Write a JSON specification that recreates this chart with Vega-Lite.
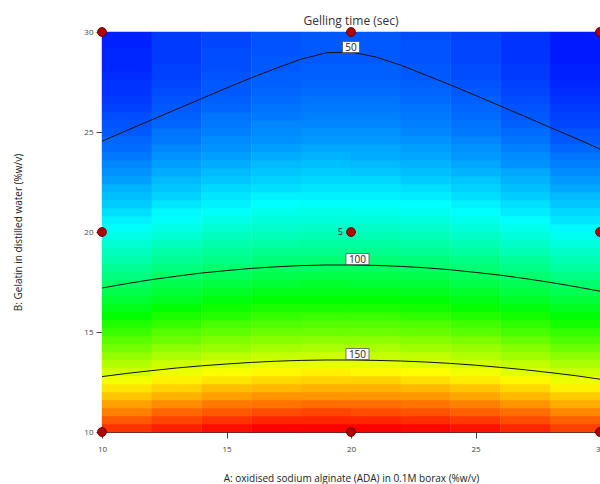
{
"$schema": "https://vega.github.io/schema/vega-lite/v6.json",
"autosize": {"type": "none"},
"width": 498, "height": 400,
"padding": {"left": 102, "top": 32, "right": 0, "bottom": 52},
"config": {"font": "Open Sans", "view": {"stroke": "#333", "strokeWidth": 1}},
"title": {"text": "Gelling time (sec)", "fontSize": 12, "fontWeight": "normal", "color": "#333", "offset": -2},
"datasets": {
"grid": [
{"A":11,"B":10.2,"T":188},{"A":13,"B":10.2,"T":191},{"A":15,"B":10.2,"T":194},{"A":17,"B":10.2,"T":196},{"A":19,"B":10.2,"T":196},{"A":21,"B":10.2,"T":196},{"A":23,"B":10.2,"T":195},{"A":25,"B":10.2,"T":193},{"A":27,"B":10.2,"T":190},{"A":29,"B":10.2,"T":186},
{"A":11,"B":10.6,"T":182},{"A":13,"B":10.6,"T":185},{"A":15,"B":10.6,"T":188},{"A":17,"B":10.6,"T":190},{"A":19,"B":10.6,"T":190},{"A":21,"B":10.6,"T":190},{"A":23,"B":10.6,"T":189},{"A":25,"B":10.6,"T":187},{"A":27,"B":10.6,"T":184},{"A":29,"B":10.6,"T":181},
{"A":11,"B":11.0,"T":176},{"A":13,"B":11.0,"T":180},{"A":15,"B":11.0,"T":182},{"A":17,"B":11.0,"T":184},{"A":19,"B":11.0,"T":185},{"A":21,"B":11.0,"T":184},{"A":23,"B":11.0,"T":183},{"A":25,"B":11.0,"T":181},{"A":27,"B":11.0,"T":179},{"A":29,"B":11.0,"T":175},
{"A":11,"B":11.4,"T":171},{"A":13,"B":11.4,"T":174},{"A":15,"B":11.4,"T":177},{"A":17,"B":11.4,"T":178},{"A":19,"B":11.4,"T":179},{"A":21,"B":11.4,"T":179},{"A":23,"B":11.4,"T":178},{"A":25,"B":11.4,"T":176},{"A":27,"B":11.4,"T":173},{"A":29,"B":11.4,"T":169},
{"A":11,"B":11.8,"T":165},{"A":13,"B":11.8,"T":168},{"A":15,"B":11.8,"T":171},{"A":17,"B":11.8,"T":173},{"A":19,"B":11.8,"T":173},{"A":21,"B":11.8,"T":173},{"A":23,"B":11.8,"T":172},{"A":25,"B":11.8,"T":170},{"A":27,"B":11.8,"T":167},{"A":29,"B":11.8,"T":164},
{"A":11,"B":12.2,"T":160},{"A":13,"B":12.2,"T":163},{"A":15,"B":12.2,"T":166},{"A":17,"B":12.2,"T":167},{"A":19,"B":12.2,"T":168},{"A":21,"B":12.2,"T":168},{"A":23,"B":12.2,"T":167},{"A":25,"B":12.2,"T":165},{"A":27,"B":12.2,"T":162},{"A":29,"B":12.2,"T":158},
{"A":11,"B":12.6,"T":154},{"A":13,"B":12.6,"T":158},{"A":15,"B":12.6,"T":160},{"A":17,"B":12.6,"T":162},{"A":19,"B":12.6,"T":163},{"A":21,"B":12.6,"T":163},{"A":23,"B":12.6,"T":161},{"A":25,"B":12.6,"T":159},{"A":27,"B":12.6,"T":157},{"A":29,"B":12.6,"T":153},
{"A":11,"B":13.0,"T":149},{"A":13,"B":13.0,"T":153},{"A":15,"B":13.0,"T":155},{"A":17,"B":13.0,"T":157},{"A":19,"B":13.0,"T":158},{"A":21,"B":13.0,"T":157},{"A":23,"B":13.0,"T":156},{"A":25,"B":13.0,"T":154},{"A":27,"B":13.0,"T":151},{"A":29,"B":13.0,"T":148},
{"A":11,"B":13.4,"T":144},{"A":13,"B":13.4,"T":148},{"A":15,"B":13.4,"T":150},{"A":17,"B":13.4,"T":152},{"A":19,"B":13.4,"T":152},{"A":21,"B":13.4,"T":152},{"A":23,"B":13.4,"T":151},{"A":25,"B":13.4,"T":149},{"A":27,"B":13.4,"T":146},{"A":29,"B":13.4,"T":143},
{"A":11,"B":13.8,"T":139},{"A":13,"B":13.8,"T":143},{"A":15,"B":13.8,"T":145},{"A":17,"B":13.8,"T":147},{"A":19,"B":13.8,"T":148},{"A":21,"B":13.8,"T":147},{"A":23,"B":13.8,"T":146},{"A":25,"B":13.8,"T":144},{"A":27,"B":13.8,"T":141},{"A":29,"B":13.8,"T":138},
{"A":11,"B":14.2,"T":134},{"A":13,"B":14.2,"T":138},{"A":15,"B":14.2,"T":140},{"A":17,"B":14.2,"T":142},{"A":19,"B":14.2,"T":143},{"A":21,"B":14.2,"T":143},{"A":23,"B":14.2,"T":141},{"A":25,"B":14.2,"T":140},{"A":27,"B":14.2,"T":137},{"A":29,"B":14.2,"T":133},
{"A":11,"B":14.6,"T":130},{"A":13,"B":14.6,"T":133},{"A":15,"B":14.6,"T":136},{"A":17,"B":14.6,"T":137},{"A":19,"B":14.6,"T":138},{"A":21,"B":14.6,"T":138},{"A":23,"B":14.6,"T":137},{"A":25,"B":14.6,"T":135},{"A":27,"B":14.6,"T":132},{"A":29,"B":14.6,"T":128},
{"A":11,"B":15.0,"T":125},{"A":13,"B":15.0,"T":129},{"A":15,"B":15.0,"T":131},{"A":17,"B":15.0,"T":133},{"A":19,"B":15.0,"T":133},{"A":21,"B":15.0,"T":133},{"A":23,"B":15.0,"T":132},{"A":25,"B":15.0,"T":130},{"A":27,"B":15.0,"T":127},{"A":29,"B":15.0,"T":124},
{"A":11,"B":15.4,"T":121},{"A":13,"B":15.4,"T":124},{"A":15,"B":15.4,"T":127},{"A":17,"B":15.4,"T":128},{"A":19,"B":15.4,"T":129},{"A":21,"B":15.4,"T":129},{"A":23,"B":15.4,"T":128},{"A":25,"B":15.4,"T":126},{"A":27,"B":15.4,"T":123},{"A":29,"B":15.4,"T":119},
{"A":11,"B":15.8,"T":116},{"A":13,"B":15.8,"T":120},{"A":15,"B":15.8,"T":122},{"A":17,"B":15.8,"T":124},{"A":19,"B":15.8,"T":125},{"A":21,"B":15.8,"T":125},{"A":23,"B":15.8,"T":123},{"A":25,"B":15.8,"T":121},{"A":27,"B":15.8,"T":119},{"A":29,"B":15.8,"T":115},
{"A":11,"B":16.2,"T":112},{"A":13,"B":16.2,"T":116},{"A":15,"B":16.2,"T":118},{"A":17,"B":16.2,"T":120},{"A":19,"B":16.2,"T":120},{"A":21,"B":16.2,"T":120},{"A":23,"B":16.2,"T":119},{"A":25,"B":16.2,"T":117},{"A":27,"B":16.2,"T":114},{"A":29,"B":16.2,"T":111},
{"A":11,"B":16.6,"T":108},{"A":13,"B":16.6,"T":111},{"A":15,"B":16.6,"T":114},{"A":17,"B":16.6,"T":116},{"A":19,"B":16.6,"T":116},{"A":21,"B":16.6,"T":116},{"A":23,"B":16.6,"T":115},{"A":25,"B":16.6,"T":113},{"A":27,"B":16.6,"T":110},{"A":29,"B":16.6,"T":107},
{"A":11,"B":17.0,"T":104},{"A":13,"B":17.0,"T":107},{"A":15,"B":17.0,"T":110},{"A":17,"B":17.0,"T":112},{"A":19,"B":17.0,"T":112},{"A":21,"B":17.0,"T":112},{"A":23,"B":17.0,"T":111},{"A":25,"B":17.0,"T":109},{"A":27,"B":17.0,"T":106},{"A":29,"B":17.0,"T":103},
{"A":11,"B":17.4,"T":100},{"A":13,"B":17.4,"T":104},{"A":15,"B":17.4,"T":106},{"A":17,"B":17.4,"T":108},{"A":19,"B":17.4,"T":109},{"A":21,"B":17.4,"T":108},{"A":23,"B":17.4,"T":107},{"A":25,"B":17.4,"T":105},{"A":27,"B":17.4,"T":103},{"A":29,"B":17.4,"T":99},
{"A":11,"B":17.8,"T":96},{"A":13,"B":17.8,"T":100},{"A":15,"B":17.8,"T":102},{"A":17,"B":17.8,"T":104},{"A":19,"B":17.8,"T":105},{"A":21,"B":17.8,"T":105},{"A":23,"B":17.8,"T":104},{"A":25,"B":17.8,"T":102},{"A":27,"B":17.8,"T":99},{"A":29,"B":17.8,"T":95},
{"A":11,"B":18.2,"T":93},{"A":13,"B":18.2,"T":96},{"A":15,"B":18.2,"T":99},{"A":17,"B":18.2,"T":101},{"A":19,"B":18.2,"T":101},{"A":21,"B":18.2,"T":101},{"A":23,"B":18.2,"T":100},{"A":25,"B":18.2,"T":98},{"A":27,"B":18.2,"T":95},{"A":29,"B":18.2,"T":91},
{"A":11,"B":18.6,"T":89},{"A":13,"B":18.6,"T":93},{"A":15,"B":18.6,"T":95},{"A":17,"B":18.6,"T":97},{"A":19,"B":18.6,"T":98},{"A":21,"B":18.6,"T":98},{"A":23,"B":18.6,"T":97},{"A":25,"B":18.6,"T":95},{"A":27,"B":18.6,"T":92},{"A":29,"B":18.6,"T":88},
{"A":11,"B":19.0,"T":86},{"A":13,"B":19.0,"T":90},{"A":15,"B":19.0,"T":92},{"A":17,"B":19.0,"T":94},{"A":19,"B":19.0,"T":94},{"A":21,"B":19.0,"T":94},{"A":23,"B":19.0,"T":93},{"A":25,"B":19.0,"T":91},{"A":27,"B":19.0,"T":88},{"A":29,"B":19.0,"T":85},
{"A":11,"B":19.4,"T":83},{"A":13,"B":19.4,"T":86},{"A":15,"B":19.4,"T":89},{"A":17,"B":19.4,"T":90},{"A":19,"B":19.4,"T":91},{"A":21,"B":19.4,"T":91},{"A":23,"B":19.4,"T":90},{"A":25,"B":19.4,"T":88},{"A":27,"B":19.4,"T":85},{"A":29,"B":19.4,"T":81},
{"A":11,"B":19.8,"T":80},{"A":13,"B":19.8,"T":83},{"A":15,"B":19.8,"T":86},{"A":17,"B":19.8,"T":87},{"A":19,"B":19.8,"T":88},{"A":21,"B":19.8,"T":88},{"A":23,"B":19.8,"T":87},{"A":25,"B":19.8,"T":85},{"A":27,"B":19.8,"T":82},{"A":29,"B":19.8,"T":78},
{"A":11,"B":20.2,"T":77},{"A":13,"B":20.2,"T":80},{"A":15,"B":20.2,"T":83},{"A":17,"B":20.2,"T":84},{"A":19,"B":20.2,"T":85},{"A":21,"B":20.2,"T":85},{"A":23,"B":20.2,"T":84},{"A":25,"B":20.2,"T":82},{"A":27,"B":20.2,"T":79},{"A":29,"B":20.2,"T":75},
{"A":11,"B":20.6,"T":74},{"A":13,"B":20.6,"T":77},{"A":15,"B":20.6,"T":80},{"A":17,"B":20.6,"T":82},{"A":19,"B":20.6,"T":82},{"A":21,"B":20.6,"T":82},{"A":23,"B":20.6,"T":81},{"A":25,"B":20.6,"T":79},{"A":27,"B":20.6,"T":76},{"A":29,"B":20.6,"T":72},
{"A":11,"B":21.0,"T":71},{"A":13,"B":21.0,"T":75},{"A":15,"B":21.0,"T":77},{"A":17,"B":21.0,"T":79},{"A":19,"B":21.0,"T":80},{"A":21,"B":21.0,"T":79},{"A":23,"B":21.0,"T":78},{"A":25,"B":21.0,"T":76},{"A":27,"B":21.0,"T":73},{"A":29,"B":21.0,"T":70},
{"A":11,"B":21.4,"T":68},{"A":13,"B":21.4,"T":72},{"A":15,"B":21.4,"T":74},{"A":17,"B":21.4,"T":76},{"A":19,"B":21.4,"T":77},{"A":21,"B":21.4,"T":77},{"A":23,"B":21.4,"T":76},{"A":25,"B":21.4,"T":74},{"A":27,"B":21.4,"T":71},{"A":29,"B":21.4,"T":67},
{"A":11,"B":21.8,"T":66},{"A":13,"B":21.8,"T":69},{"A":15,"B":21.8,"T":72},{"A":17,"B":21.8,"T":74},{"A":19,"B":21.8,"T":74},{"A":21,"B":21.8,"T":74},{"A":23,"B":21.8,"T":73},{"A":25,"B":21.8,"T":71},{"A":27,"B":21.8,"T":68},{"A":29,"B":21.8,"T":65},
{"A":11,"B":22.2,"T":64},{"A":13,"B":22.2,"T":67},{"A":15,"B":22.2,"T":70},{"A":17,"B":22.2,"T":71},{"A":19,"B":22.2,"T":72},{"A":21,"B":22.2,"T":72},{"A":23,"B":22.2,"T":71},{"A":25,"B":22.2,"T":69},{"A":27,"B":22.2,"T":66},{"A":29,"B":22.2,"T":62},
{"A":11,"B":22.6,"T":61},{"A":13,"B":22.6,"T":65},{"A":15,"B":22.6,"T":67},{"A":17,"B":22.6,"T":69},{"A":19,"B":22.6,"T":70},{"A":21,"B":22.6,"T":70},{"A":23,"B":22.6,"T":68},{"A":25,"B":22.6,"T":67},{"A":27,"B":22.6,"T":64},{"A":29,"B":22.6,"T":60},
{"A":11,"B":23.0,"T":59},{"A":13,"B":23.0,"T":63},{"A":15,"B":23.0,"T":65},{"A":17,"B":23.0,"T":67},{"A":19,"B":23.0,"T":68},{"A":21,"B":23.0,"T":67},{"A":23,"B":23.0,"T":66},{"A":25,"B":23.0,"T":64},{"A":27,"B":23.0,"T":62},{"A":29,"B":23.0,"T":58},
{"A":11,"B":23.4,"T":57},{"A":13,"B":23.4,"T":61},{"A":15,"B":23.4,"T":63},{"A":17,"B":23.4,"T":65},{"A":19,"B":23.4,"T":66},{"A":21,"B":23.4,"T":65},{"A":23,"B":23.4,"T":64},{"A":25,"B":23.4,"T":62},{"A":27,"B":23.4,"T":59},{"A":29,"B":23.4,"T":56},
{"A":11,"B":23.8,"T":55},{"A":13,"B":23.8,"T":59},{"A":15,"B":23.8,"T":61},{"A":17,"B":23.8,"T":63},{"A":19,"B":23.8,"T":64},{"A":21,"B":23.8,"T":63},{"A":23,"B":23.8,"T":62},{"A":25,"B":23.8,"T":60},{"A":27,"B":23.8,"T":58},{"A":29,"B":23.8,"T":54},
{"A":11,"B":24.2,"T":53},{"A":13,"B":24.2,"T":57},{"A":15,"B":24.2,"T":59},{"A":17,"B":24.2,"T":61},{"A":19,"B":24.2,"T":62},{"A":21,"B":24.2,"T":62},{"A":23,"B":24.2,"T":61},{"A":25,"B":24.2,"T":59},{"A":27,"B":24.2,"T":56},{"A":29,"B":24.2,"T":52},
{"A":11,"B":24.6,"T":52},{"A":13,"B":24.6,"T":55},{"A":15,"B":24.6,"T":58},{"A":17,"B":24.6,"T":59},{"A":19,"B":24.6,"T":60},{"A":21,"B":24.6,"T":60},{"A":23,"B":24.6,"T":59},{"A":25,"B":24.6,"T":57},{"A":27,"B":24.6,"T":54},{"A":29,"B":24.6,"T":50},
{"A":11,"B":25.0,"T":50},{"A":13,"B":25.0,"T":54},{"A":15,"B":25.0,"T":56},{"A":17,"B":25.0,"T":58},{"A":19,"B":25.0,"T":59},{"A":21,"B":25.0,"T":59},{"A":23,"B":25.0,"T":57},{"A":25,"B":25.0,"T":55},{"A":27,"B":25.0,"T":53},{"A":29,"B":25.0,"T":49},
{"A":11,"B":25.4,"T":49},{"A":13,"B":25.4,"T":52},{"A":15,"B":25.4,"T":55},{"A":17,"B":25.4,"T":57},{"A":19,"B":25.4,"T":57},{"A":21,"B":25.4,"T":57},{"A":23,"B":25.4,"T":56},{"A":25,"B":25.4,"T":54},{"A":27,"B":25.4,"T":51},{"A":29,"B":25.4,"T":47},
{"A":11,"B":25.8,"T":48},{"A":13,"B":25.8,"T":51},{"A":15,"B":25.8,"T":54},{"A":17,"B":25.8,"T":55},{"A":19,"B":25.8,"T":56},{"A":21,"B":25.8,"T":56},{"A":23,"B":25.8,"T":55},{"A":25,"B":25.8,"T":53},{"A":27,"B":25.8,"T":50},{"A":29,"B":25.8,"T":46},
{"A":11,"B":26.2,"T":46},{"A":13,"B":26.2,"T":50},{"A":15,"B":26.2,"T":52},{"A":17,"B":26.2,"T":54},{"A":19,"B":26.2,"T":55},{"A":21,"B":26.2,"T":55},{"A":23,"B":26.2,"T":54},{"A":25,"B":26.2,"T":52},{"A":27,"B":26.2,"T":49},{"A":29,"B":26.2,"T":45},
{"A":11,"B":26.6,"T":45},{"A":13,"B":26.6,"T":49},{"A":15,"B":26.6,"T":51},{"A":17,"B":26.6,"T":53},{"A":19,"B":26.6,"T":54},{"A":21,"B":26.6,"T":54},{"A":23,"B":26.6,"T":53},{"A":25,"B":26.6,"T":51},{"A":27,"B":26.6,"T":48},{"A":29,"B":26.6,"T":44},
{"A":11,"B":27.0,"T":44},{"A":13,"B":27.0,"T":48},{"A":15,"B":27.0,"T":50},{"A":17,"B":27.0,"T":52},{"A":19,"B":27.0,"T":53},{"A":21,"B":27.0,"T":53},{"A":23,"B":27.0,"T":52},{"A":25,"B":27.0,"T":50},{"A":27,"B":27.0,"T":47},{"A":29,"B":27.0,"T":43},
{"A":11,"B":27.4,"T":44},{"A":13,"B":27.4,"T":47},{"A":15,"B":27.4,"T":50},{"A":17,"B":27.4,"T":51},{"A":19,"B":27.4,"T":52},{"A":21,"B":27.4,"T":52},{"A":23,"B":27.4,"T":51},{"A":25,"B":27.4,"T":49},{"A":27,"B":27.4,"T":46},{"A":29,"B":27.4,"T":42},
{"A":11,"B":27.8,"T":43},{"A":13,"B":27.8,"T":46},{"A":15,"B":27.8,"T":49},{"A":17,"B":27.8,"T":51},{"A":19,"B":27.8,"T":51},{"A":21,"B":27.8,"T":51},{"A":23,"B":27.8,"T":50},{"A":25,"B":27.8,"T":48},{"A":27,"B":27.8,"T":45},{"A":29,"B":27.8,"T":41},
{"A":11,"B":28.2,"T":42},{"A":13,"B":28.2,"T":46},{"A":15,"B":28.2,"T":48},{"A":17,"B":28.2,"T":50},{"A":19,"B":28.2,"T":51},{"A":21,"B":28.2,"T":51},{"A":23,"B":28.2,"T":50},{"A":25,"B":28.2,"T":48},{"A":27,"B":28.2,"T":45},{"A":29,"B":28.2,"T":41},
{"A":11,"B":28.6,"T":42},{"A":13,"B":28.6,"T":45},{"A":15,"B":28.6,"T":48},{"A":17,"B":28.6,"T":50},{"A":19,"B":28.6,"T":50},{"A":21,"B":28.6,"T":50},{"A":23,"B":28.6,"T":49},{"A":25,"B":28.6,"T":47},{"A":27,"B":28.6,"T":44},{"A":29,"B":28.6,"T":40},
{"A":11,"B":29.0,"T":42},{"A":13,"B":29.0,"T":45},{"A":15,"B":29.0,"T":48},{"A":17,"B":29.0,"T":49},{"A":19,"B":29.0,"T":50},{"A":21,"B":29.0,"T":50},{"A":23,"B":29.0,"T":49},{"A":25,"B":29.0,"T":47},{"A":27,"B":29.0,"T":44},{"A":29,"B":29.0,"T":40},
{"A":11,"B":29.4,"T":41},{"A":13,"B":29.4,"T":45},{"A":15,"B":29.4,"T":47},{"A":17,"B":29.4,"T":49},{"A":19,"B":29.4,"T":50},{"A":21,"B":29.4,"T":50},{"A":23,"B":29.4,"T":49},{"A":25,"B":29.4,"T":47},{"A":27,"B":29.4,"T":44},{"A":29,"B":29.4,"T":40},
{"A":11,"B":29.8,"T":41},{"A":13,"B":29.8,"T":45},{"A":15,"B":29.8,"T":47},{"A":17,"B":29.8,"T":49},{"A":19,"B":29.8,"T":50},{"A":21,"B":29.8,"T":50},{"A":23,"B":29.8,"T":48},{"A":25,"B":29.8,"T":46},{"A":27,"B":29.8,"T":44},{"A":29,"B":29.8,"T":40}
],
"contours": [
{"L":50,"A":10,"B":24.54},{"L":50,"A":11,"B":25.08},{"L":50,"A":12,"B":25.61},{"L":50,"A":13,"B":26.14},{"L":50,"A":14,"B":26.67},{"L":50,"A":15,"B":27.2},{"L":50,"A":16,"B":27.71},{"L":50,"A":17,"B":28.19},{"L":50,"A":18,"B":28.64},{"L":50,"A":19,"B":28.96},{"L":50,"A":20,"B":29.0},{"L":50,"A":21,"B":28.75},{"L":50,"A":22,"B":28.34},{"L":50,"A":23,"B":27.85},{"L":50,"A":24,"B":27.35},{"L":50,"A":25,"B":26.83},{"L":50,"A":26,"B":26.3},{"L":50,"A":27,"B":25.77},{"L":50,"A":28,"B":25.23},{"L":50,"A":29,"B":24.7},{"L":50,"A":30,"B":24.15},
{"L":100,"A":10,"B":17.2},{"L":100,"A":11,"B":17.42},{"L":100,"A":12,"B":17.62},{"L":100,"A":13,"B":17.79},{"L":100,"A":14,"B":17.95},{"L":100,"A":15,"B":18.07},{"L":100,"A":16,"B":18.18},{"L":100,"A":17,"B":18.26},{"L":100,"A":18,"B":18.32},{"L":100,"A":19,"B":18.35},{"L":100,"A":20,"B":18.35},{"L":100,"A":21,"B":18.33},{"L":100,"A":22,"B":18.28},{"L":100,"A":23,"B":18.21},{"L":100,"A":24,"B":18.11},{"L":100,"A":25,"B":17.98},{"L":100,"A":26,"B":17.84},{"L":100,"A":27,"B":17.67},{"L":100,"A":28,"B":17.48},{"L":100,"A":29,"B":17.27},{"L":100,"A":30,"B":17.04},
{"L":150,"A":10,"B":12.77},{"L":150,"A":11,"B":12.93},{"L":150,"A":12,"B":13.07},{"L":150,"A":13,"B":13.2},{"L":150,"A":14,"B":13.31},{"L":150,"A":15,"B":13.4},{"L":150,"A":16,"B":13.48},{"L":150,"A":17,"B":13.54},{"L":150,"A":18,"B":13.58},{"L":150,"A":19,"B":13.6},{"L":150,"A":20,"B":13.6},{"L":150,"A":21,"B":13.58},{"L":150,"A":22,"B":13.55},{"L":150,"A":23,"B":13.5},{"L":150,"A":24,"B":13.43},{"L":150,"A":25,"B":13.34},{"L":150,"A":26,"B":13.23},{"L":150,"A":27,"B":13.11},{"L":150,"A":28,"B":12.97},{"L":150,"A":29,"B":12.82},{"L":150,"A":30,"B":12.64}
],
"labels": [
{"A":20.0,"B":29.25,"txt":"50"},
{"A":20.26,"B":18.65,"txt":"100"},
{"A":20.26,"B":13.9,"txt":"150"}
],
"points": [
{"A":10,"B":10},{"A":20,"B":10},{"A":30,"B":10},
{"A":10,"B":20},{"A":20,"B":20,"n":"5"},{"A":30,"B":20},
{"A":10,"B":30},{"A":20,"B":30},{"A":30,"B":30}
]
},
"encoding": {
"x": {"field": "A", "type": "quantitative",
 "scale": {"domain": [10, 30], "nice": false, "zero": false},
 "axis": {"values": [10, 15, 20, 25, 30], "grid": false, "title": "A: oxidised sodium alginate (ADA) in 0.1M borax (%w/v)",
  "titleFontSize": 10, "titleFontWeight": "normal", "titleColor": "#222", "titleY": 46, "titleBaseline": "middle",
  "labelFontSize": 8, "labelColor": "#444", "tickColor": "#444", "tickSize": 6, "labelPadding": 7,
  "domainColor": "#333", "labelFlush": false}},
"y": {"field": "B", "type": "quantitative",
 "scale": {"domain": [10, 30], "nice": false, "zero": false},
 "axis": {"values": [10, 15, 20, 25, 30], "grid": false, "title": "B: Gelatin in distilled water (%w/v)",
  "titleFontSize": 10, "titleFontWeight": "normal", "titleColor": "#222", "titleX": -84, "titleY": 200, "titleAngle": -90,
  "titleAlign": "center", "titleBaseline": "middle",
  "labelFontSize": 8, "labelColor": "#444", "tickColor": "#444", "tickSize": 6, "labelPadding": 3,
  "domainColor": "#333", "labelFlush": false}}
},
"layer": [
{"data": {"name": "grid"},
 "mark": {"type": "rect", "width": 50.2, "height": 8.4},
 "encoding": {"color": {"field": "T", "type": "quantitative", "legend": null,
  "scale": {"domain": [36, 76, 116, 156, 196], "range": ["#0000ff", "#00ffff", "#00ff00", "#ffff00", "#ff0000"], "interpolate": "rgb", "clamp": true}}}},
{"data": {"name": "contours"},
 "mark": {"type": "line", "color": "#111", "strokeWidth": 1},
 "encoding": {"detail": {"field": "L", "type": "nominal"}, "order": {"field": "A", "type": "quantitative"}}},
{"data": {"name": "labels"}, "transform": [{"filter": "length(datum.txt) == 2"}],
 "mark": {"type": "rect", "width": 17, "height": 11, "fill": "white", "stroke": "#555", "strokeWidth": 0.8},
 "encoding": {}},
{"data": {"name": "labels"}, "transform": [{"filter": "length(datum.txt) == 3"}],
 "mark": {"type": "rect", "width": 23, "height": 11, "fill": "white", "stroke": "#555", "strokeWidth": 0.8},
 "encoding": {}},
{"data": {"name": "labels"},
 "mark": {"type": "text", "fontSize": 10, "color": "#222", "baseline": "middle", "align": "center", "dy": 0.5},
 "encoding": {"text": {"field": "txt"}}},
{"data": {"name": "points"},
 "mark": {"type": "point", "shape": "circle", "filled": true, "size": 80, "fill": "#b50000", "stroke": "#4a0000", "strokeWidth": 0.8, "opacity": 1},
 "encoding": {}},
{"data": {"name": "points"}, "transform": [{"filter": "datum.n"}],
 "mark": {"type": "text", "fontSize": 9, "color": "#222", "align": "right", "baseline": "middle", "dx": -8},
 "encoding": {"text": {"field": "n"}}}
]
}
